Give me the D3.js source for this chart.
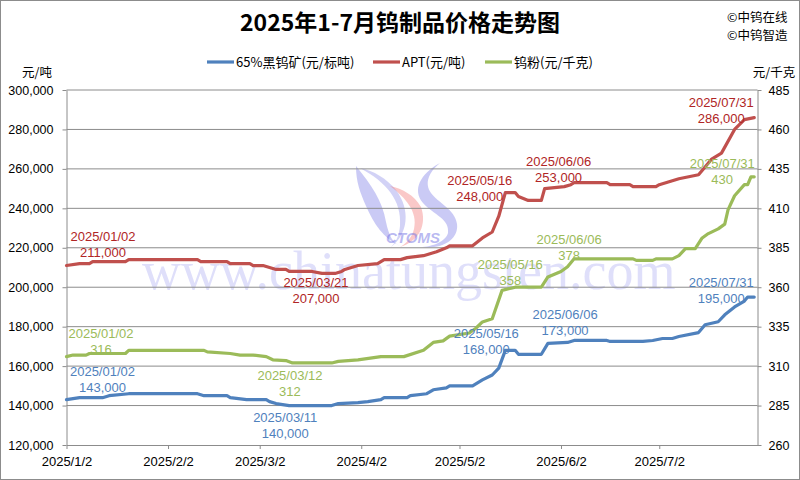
<!DOCTYPE html>
<html><head><meta charset="utf-8">
<script src="https://cdn.jsdelivr.net/npm/d3@7"></script>
<style>body{margin:0;background:#fff}svg{display:block}</style>
</head><body>
<svg id="chart" width="800" height="480"></svg>
<script>
// ---------- DATA ----------
const titleText = "2025年1-7月钨制品价格走势图";
const seriesNames = ["65%黑钨矿(元/标吨)", "APT(元/吨)", "钨粉(元/千克)"];
const xTickLabels = ["2025/1/2","2025/2/2","2025/3/2","2025/4/2","2025/5/2","2025/6/2","2025/7/2"];
const leftTicks = [120000,140000,160000,180000,200000,220000,240000,260000,280000,300000];
const rightTicks = [260,285,310,335,360,385,410,435,460,485];

const oreDates = ["2025-01-02","2025-01-06","2025-01-13","2025-01-15","2025-01-21","2025-02-11","2025-02-13","2025-02-20","2025-02-21","2025-02-26","2025-03-04","2025-03-05","2025-03-07","2025-03-11","2025-03-24","2025-03-26","2025-04-01","2025-04-04","2025-04-08","2025-04-09","2025-04-16","2025-04-17","2025-04-22","2025-04-24","2025-04-28","2025-04-29","2025-05-06","2025-05-09","2025-05-12","2025-05-14","2025-05-16","2025-05-19","2025-05-20","2025-05-27","2025-05-29","2025-06-04","2025-06-06","2025-06-16","2025-06-17","2025-06-27","2025-06-30","2025-07-03","2025-07-06","2025-07-08","2025-07-14","2025-07-16","2025-07-20","2025-07-22","2025-07-25","2025-07-28","2025-07-29","2025-07-31"];
const oreValues = [143000,144000,144000,145000,146000,146000,145000,145000,144000,143000,143000,142000,141000,140000,140000,141000,141500,142000,143000,144000,144000,145000,146000,148000,149000,150000,150000,153000,155500,159000,168000,168000,166000,166000,171500,172000,173000,173000,172500,172500,173000,174000,174000,175000,177000,181000,182500,186000,190000,193000,195000,195000];

const aptDates = ["2025-01-02","2025-01-06","2025-01-09","2025-01-10","2025-01-20","2025-01-21","2025-02-11","2025-02-12","2025-02-20","2025-02-21","2025-02-27","2025-02-28","2025-03-03","2025-03-05","2025-03-07","2025-03-10","2025-03-11","2025-03-18","2025-03-21","2025-03-25","2025-03-27","2025-03-28","2025-04-01","2025-04-07","2025-04-09","2025-04-14","2025-04-16","2025-04-21","2025-04-23","2025-04-25","2025-04-28","2025-04-29","2025-05-06","2025-05-09","2025-05-12","2025-05-14","2025-05-16","2025-05-19","2025-05-20","2025-05-23","2025-05-27","2025-05-28","2025-06-03","2025-06-05","2025-06-06","2025-06-16","2025-06-17","2025-06-23","2025-06-24","2025-07-01","2025-07-02","2025-07-04","2025-07-08","2025-07-11","2025-07-14","2025-07-16","2025-07-18","2025-07-21","2025-07-25","2025-07-28","2025-07-31"];
const aptValues = [211000,212000,212000,213000,213000,214000,214000,213000,213000,212000,212000,211000,211000,210000,209000,209000,208000,208000,207000,207000,208000,209000,211000,212000,214000,214000,215000,216000,217000,218000,220000,221000,221000,225000,228000,236000,248000,248000,246000,244000,244000,250000,251000,252000,253000,253000,252000,252000,251000,251000,252000,253000,255000,256000,257000,261000,265000,268000,280000,285000,286000];

const powderDates = ["2025-01-02","2025-01-04","2025-01-08","2025-01-09","2025-01-20","2025-01-21","2025-02-13","2025-02-14","2025-02-21","2025-02-24","2025-02-28","2025-03-04","2025-03-06","2025-03-10","2025-03-12","2025-03-24","2025-03-26","2025-04-01","2025-04-08","2025-04-15","2025-04-21","2025-04-24","2025-04-27","2025-04-29","2025-05-05","2025-05-07","2025-05-09","2025-05-12","2025-05-15","2025-05-19","2025-05-27","2025-05-29","2025-06-02","2025-06-04","2025-06-06","2025-06-24","2025-06-25","2025-06-30","2025-07-01","2025-07-06","2025-07-08","2025-07-10","2025-07-13","2025-07-15","2025-07-17","2025-07-20","2025-07-22","2025-07-23","2025-07-25","2025-07-28","2025-07-29","2025-07-30","2025-07-31"];
const powderValues = [316,317,317,318,318,320,320,319,318,317,317,316,314,313.5,312,312,313,314,316,316,320,325,326,329,331,334,338,340,358,360,360,366.5,370,373,378,378,377,377,378,378,380,384.5,384.5,391,394,397,400,409,418,425,425,430,430];

// annotated points
const annDates = [
  ["2025-01-02","2025-03-11","2025-05-16","2025-06-06","2025-07-31"],
  ["2025-01-02","2025-03-21","2025-05-16","2025-06-06","2025-07-31"],
  ["2025-01-02","2025-03-12","2025-05-16","2025-06-06","2025-07-31"]
];
const annValues = [
  [143000,140000,168000,173000,195000],
  [211000,207000,248000,253000,286000],
  [316,312,358,378,430]
];
const annValueText = [
  ["143,000","140,000","168,000","173,000","195,000"],
  ["211,000","207,000","248,000","253,000","286,000"],
  ["316","312","358","378","430"]
];

// ---------- LAYOUT / STYLE ----------
const annOffsets = [ // [dx, dy of date line centre] relative to point
  [[36,-28],[-4,12],[-19,-17],[-9,-26.5],[-33,-15]],
  [[36.5,-29],[-6,9],[-25.5,-12.5],[-15.5,-21.5],[-33,-15.5]],
  [[34.5,-23.5],[-2.5,12.5],[5,-25.5],[-5,-19],[-32,-13.5]]
];
const lineColors = ["#4F81BD","#C0504D","#9BBB59"];
const textColors = ["#4F81BD","#B02525","#9BBB59"];
const gridColor = "#8C8C8C";
const numFont = "'Liberation Sans', Arial, sans-serif";
const cjkFont = "'Noto Sans CJK SC', 'Noto Sans', sans-serif";

const svg = d3.select("#chart");
const parse = d3.timeParse("%Y-%m-%d");
const M = {l:66.5, r:757.5, t:90, b:445};

const x = d3.scaleTime().domain([parse("2025-01-02"), parse("2025-08-01")]).range([M.l, M.r]);
const yL = d3.scaleLinear().domain([120000,300000]).range([M.b, M.t]);
const yR = d3.scaleLinear().domain([260,485]).range([M.b, M.t]);
const yScales = [yL, yL, yR];

// border
svg.append("rect").attr("x",0.5).attr("y",0.5).attr("width",799).attr("height",479)
  .attr("fill","#fff").attr("stroke","#8C8C8C");

// watermark
const wm = svg.append("g").attr("pointer-events","none");
wm.append("text").attr("x",142).attr("y",289).text("www.chinatungsten.com")
  .attr("font-family","'Liberation Serif', 'Times New Roman', serif").attr("font-size",54)
  .attr("fill","rgb(120,120,235)").attr("fill-opacity",0.24);
// CTOMS logo approximation
const logoBlue = "rgb(115,115,228)";
wm.append("path").attr("d","M356,166 C372,186 382,200 386,222 C389,236 393,243 400,246 C383,238 374,224 366,206 C360,192 356,182 356,166 Z")
  .attr("fill",logoBlue).attr("fill-opacity",0.38);
wm.append("path").attr("d","M360,168 C386,182 402,200 400,226 C399,236 396,242 391,247 C408,234 411,210 396,190 C386,178 374,171 360,168 Z")
  .attr("fill",logoBlue).attr("fill-opacity",0.32);
wm.append("path").attr("d","M390,186 C406,198 418,212 414,229 C412,237 407,243 400,247 C420,241 427,224 421,207 C414,195 403,189 390,186 Z")
  .attr("fill","rgb(242,110,110)").attr("fill-opacity",0.38);
wm.append("path").attr("d","M440,163 C420,174 412,190 423,203 C434,215 450,219 448,233 C446,241 433,247 420,247 C443,250 459,239 457,224 C455,209 438,203 431,193 C424,183 429,172 440,163 Z")
  .attr("fill",logoBlue).attr("fill-opacity",0.38);
wm.append("text").attr("x",413).attr("y",243).attr("text-anchor","middle").text("CTOMS")
  .attr("font-family",numFont).attr("font-style","italic").attr("font-weight","bold").attr("font-size",15)
  .attr("fill",logoBlue).attr("fill-opacity",0.5);

// gridlines
svg.append("g").selectAll("line").data(leftTicks.slice(1)).join("line")
  .attr("x1",M.l).attr("x2",M.r).attr("y1",d=>yL(d)).attr("y2",d=>yL(d))
  .attr("stroke",gridColor).attr("stroke-width",1);

// axes
const tickDates = xTickLabels.map(s=>d3.timeParse("%Y/%m/%d")(s));
const xAxis = d3.axisBottom(x).tickValues(tickDates).tickFormat(d3.timeFormat("%Y/%-m/%-d")).tickSize(4).tickSizeOuter(0);
const gx = svg.append("g").attr("transform",`translate(0,${M.b})`).call(xAxis);
gx.selectAll("text").attr("font-family",numFont).attr("font-size",13).attr("fill","#000").attr("dy","1.05em");

const gl = svg.append("g").attr("transform",`translate(${M.l},0)`)
  .call(d3.axisLeft(yL).tickValues(leftTicks).tickFormat(d3.format(",")).tickSize(4).tickSizeOuter(0));
gl.selectAll("text").attr("font-family",numFont).attr("font-size",12.5).attr("fill","#000").attr("x",-13);

const gr = svg.append("g").attr("transform",`translate(${M.r},0)`)
  .call(d3.axisRight(yR).tickValues(rightTicks).tickSize(4).tickSizeOuter(0));
gr.selectAll("text").attr("font-family",numFont).attr("font-size",12.5).attr("fill","#000").attr("x",11);

svg.selectAll(".domain, .tick line").attr("stroke",gridColor);

// series
const allDates = [oreDates, aptDates, powderDates];
const allValues = [oreValues, aptValues, powderValues];
[1,2,0].forEach(i=>{
  const pts = allDates[i].map((d,j)=>[parse(d), allValues[i][j]]);
  const line = d3.line().x(d=>x(d[0])).y(d=>yScales[i](d[1]));
  svg.append("path").datum(pts).attr("d",line).attr("fill","none")
    .attr("stroke",lineColors[i]).attr("stroke-width",3.2).attr("stroke-linejoin","round").attr("stroke-linecap","round");
});

// annotations
annDates.forEach((arr,i)=>{
  arr.forEach((d,j)=>{
    const px = x(parse(d)), py = yScales[i](annValues[i][j]);
    const [dx,dy] = annOffsets[i][j];
    const g = svg.append("g").attr("font-family",numFont).attr("font-size",13)
      .attr("fill",textColors[i]).attr("text-anchor","middle");
    g.append("text").attr("x",px+dx).attr("y",py+dy+4.6).text(d.replace(/-/g,"/"));
    g.append("text").attr("x",px+dx).attr("y",py+dy+16+4.6).text(annValueText[i][j]);
  });
});

// title
svg.append("text").attr("x",400).attr("y",31).attr("text-anchor","middle")
  .attr("font-family",cjkFont).attr("font-weight","bold").attr("font-size",23).text(titleText);

// copyright
svg.append("text").attr("x",727).attr("y",22).attr("font-family",cjkFont).attr("font-size",12.5).text("©中钨在线");
svg.append("text").attr("x",727).attr("y",40).attr("font-family",cjkFont).attr("font-size",12.5).text("©中钨智造");

// legend
const legX = [207, 373, 485];
seriesNames.forEach((n,i)=>{
  svg.append("line").attr("x1",legX[i]).attr("x2",legX[i]+27).attr("y1",62).attr("y2",62)
    .attr("stroke",lineColors[i]).attr("stroke-width",3.2);
  svg.append("text").attr("x",legX[i]+29).attr("y",66.5).attr("font-family",cjkFont).attr("font-size",13).text(n);
});

// unit labels
svg.append("text").attr("x",37).attr("y",77).attr("text-anchor","middle").attr("font-family",cjkFont).attr("font-size",12.5).text("元/吨");
svg.append("text").attr("x",774).attr("y",77).attr("text-anchor","middle").attr("font-family",cjkFont).attr("font-size",12.5).text("元/千克");
</script>
</body></html>
